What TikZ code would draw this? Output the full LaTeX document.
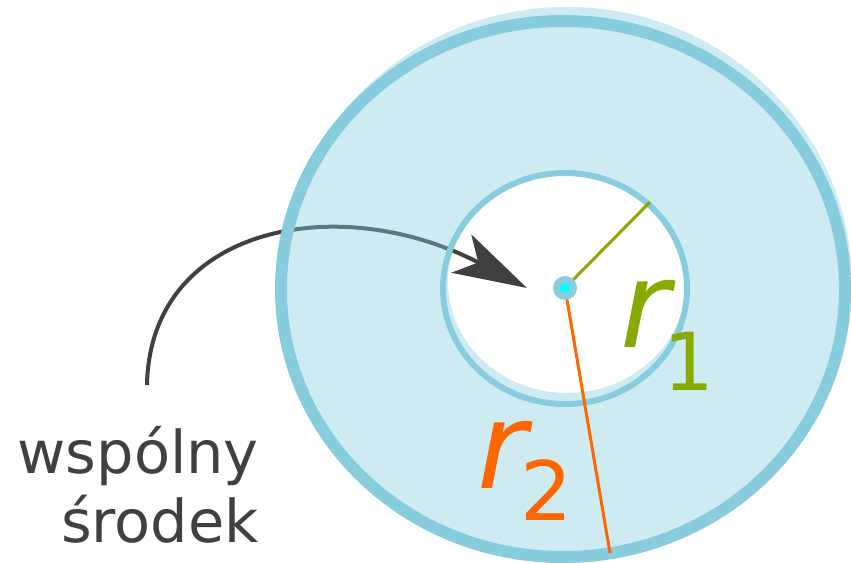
\documentclass[tikz,border=0pt]{standalone}
\usepackage{fontspec}
\setmainfont{DejaVu Sans}
\usepackage{xcolor}
\usepackage{tikz}
\usetikzlibrary{calc}
\usetikzlibrary{arrows.meta,positioning}
\definecolor{ringblue}{HTML}{87CDDE}
\definecolor{textgray}{HTML}{404040}
\definecolor{rgreen}{HTML}{88AA00}
\definecolor{rorange}{HTML}{FF6600}
\definecolor{dotcyan}{HTML}{00FFFF}
\tikzset{
	pointer/.style={textgray,line width=4pt,-{Stealth[length=74pt,width=43pt,inset=19pt]}},
	ringline/.style={ringblue,line width=#1},
	radius line/.style={#1,line width=3pt},
	label/.style={inner sep=0pt,#1}
}

\begin{document}
\begin{tikzpicture}[x=1pt,y=-1pt]
	\useasboundingbox (0,0) rectangle (851,562);
	\coordinate (O) at (565,288);
	\coordinate (S) at (147,385);
	\coordinate (T) at (527,288);
	\coordinate (A) at (650,202);
	\coordinate (B) at (610,553);
	\draw[pointer] (S) .. controls (150,225) and (340,190) .. (T);
	\fill[ringblue,fill opacity=0.4,even odd rule] (567,284) ellipse [x radius=285,y radius=277] (567,282) ellipse [x radius=119,y radius=111];
	\draw[ringline=12pt] (563,289) ellipse [x radius=282,y radius=268];
	\draw[ringline=6pt] (565,288.5) ellipse [x radius=122,y radius=115.5];
	\draw[radius line=rgreen] (O) -- (A);
	\draw[radius line=rorange] (O) -- (B);
	\fill[ringblue] (O) circle [radius=12];
	\fill[dotcyan] (O) circle [radius=5];
	\node[label=rgreen,anchor=base west] (rone) at (620,347) {\fontsize{120}{120}\selectfont\itshape r\kern-6pt\raisebox{-43pt}{\fontsize{80}{80}\selectfont\upshape 1}};
	\node[label=rorange,anchor=base west] (rtwo) at (477,488) {\fontsize{120}{120}\selectfont\itshape r\kern-6pt\raisebox{-32pt}{\fontsize{82}{82}\selectfont\upshape 2}};
	\node[label=textgray,anchor=north east,align=right,font=\fontsize{59}{69}\selectfont] (centre) at (259,426) {wspólny\\środek};
\end{tikzpicture}
\end{document}
